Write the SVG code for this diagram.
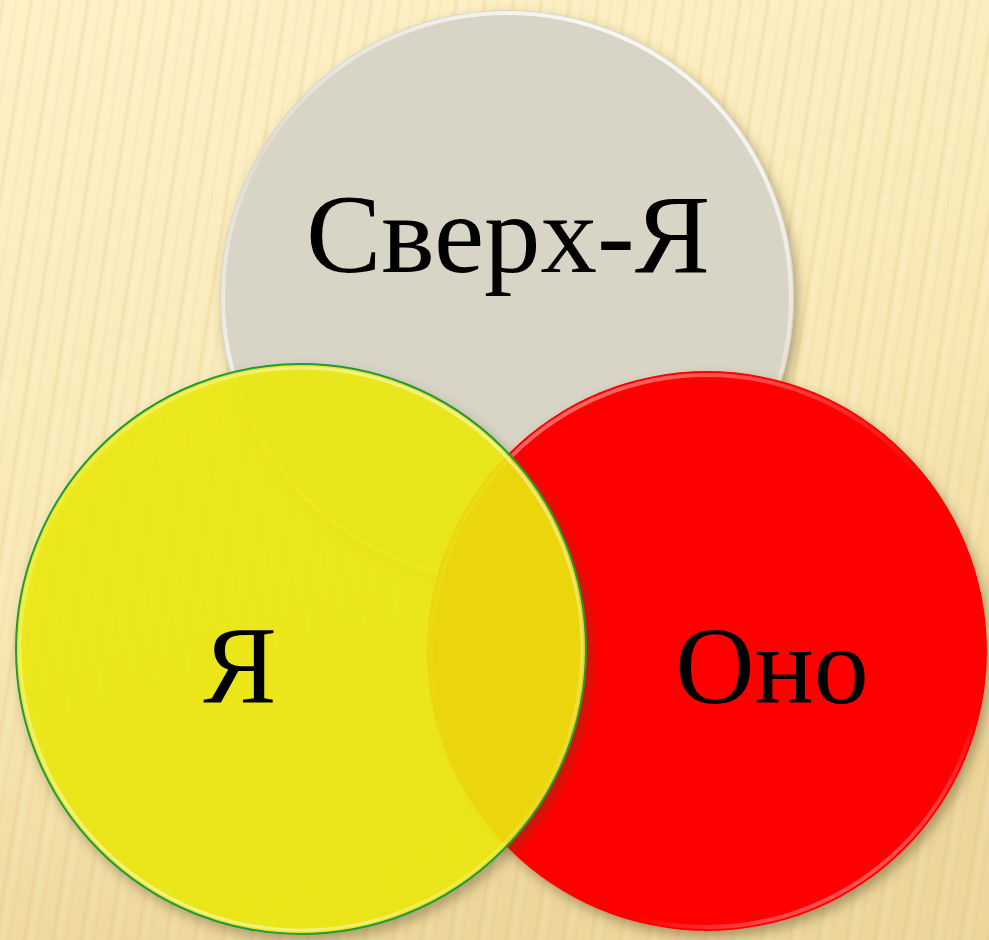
<svg xmlns="http://www.w3.org/2000/svg" width="989" height="940" viewBox="0 0 989 940">
<defs>
<linearGradient id="bg" x1="0" y1="0" x2="0.3" y2="1">
<stop offset="0" stop-color="#fdf1c6"/>
<stop offset="0.6" stop-color="#f8e8b5"/>
<stop offset="1" stop-color="#edd69c"/>
</linearGradient>
<linearGradient id="stripeG" x1="0" y1="0" x2="1" y2="0">
<stop offset="0" stop-color="#d6b872" stop-opacity="0"/>
<stop offset="0.5" stop-color="#d6b872" stop-opacity="0.22"/>
<stop offset="1" stop-color="#d6b872" stop-opacity="0"/>
</linearGradient>
<pattern id="stripes" patternUnits="userSpaceOnUse" width="28" height="40" patternTransform="rotate(9)">
<rect x="0" y="0" width="6" height="40" fill="url(#stripeG)"/>
<rect x="14" y="0" width="4" height="40" fill="url(#stripeG)" opacity="0.6"/>
<rect x="7" y="0" width="5" height="40" fill="#ffffff" opacity="0.08"/>
</pattern>
<filter id="shadow" x="-20%" y="-20%" width="140%" height="140%">
<feDropShadow dx="4" dy="6" stdDeviation="6" flood-color="#5a4a20" flood-opacity="0.45"/>
</filter>
<linearGradient id="rimW" x1="0.8" y1="0" x2="0.2" y2="1">
<stop offset="0" stop-color="#ffffff" stop-opacity="0.9"/>
<stop offset="0.5" stop-color="#ffffff" stop-opacity="0.15"/>
<stop offset="1" stop-color="#ffffff" stop-opacity="0.9"/>
</linearGradient>
<linearGradient id="rimR" x1="0.2" y1="0" x2="0.8" y2="1">
<stop offset="0" stop-color="#ffffff" stop-opacity="0.45"/>
<stop offset="0.45" stop-color="#ffffff" stop-opacity="0"/>
<stop offset="0.8" stop-color="#ffffff" stop-opacity="0"/>
<stop offset="1" stop-color="#ffffff" stop-opacity="0.5"/>
</linearGradient>
<style>
.lbl{font-family:"Liberation Serif","DejaVu Serif",serif;fill:#000;text-anchor:middle}
</style>
</defs>
<rect width="989" height="940" fill="url(#bg)"/>
<rect width="989" height="940" fill="url(#stripes)"/>

<g id="superego">
<circle cx="507" cy="297" r="287" fill="#d9d5c6" filter="url(#shadow)"/>
<circle cx="507" cy="297" r="284" fill="none" stroke="url(#rimW)" stroke-width="4"/>
<text class="lbl" x="508" y="272" font-size="113">Сверх-Я</text>
</g>

<g id="id">
<circle cx="707" cy="651" r="280" fill="#ff0000" filter="url(#shadow)"/>
<circle cx="707" cy="651" r="276" fill="none" stroke="url(#rimR)" stroke-width="4"/>
<text class="lbl" x="772" y="703" font-size="110">Оно</text>
</g>

<g id="ego">
<circle cx="301" cy="649" r="285" fill="#eeec10" fill-opacity="0.88" stroke="#1f9a3c" stroke-width="2" filter="url(#shadow)"/>
<circle cx="301" cy="649" r="281" fill="none" stroke="url(#rimW)" stroke-width="3" opacity="0.6"/>
<text class="lbl" x="240" y="703" font-size="110">Я</text>
</g>
</svg>
